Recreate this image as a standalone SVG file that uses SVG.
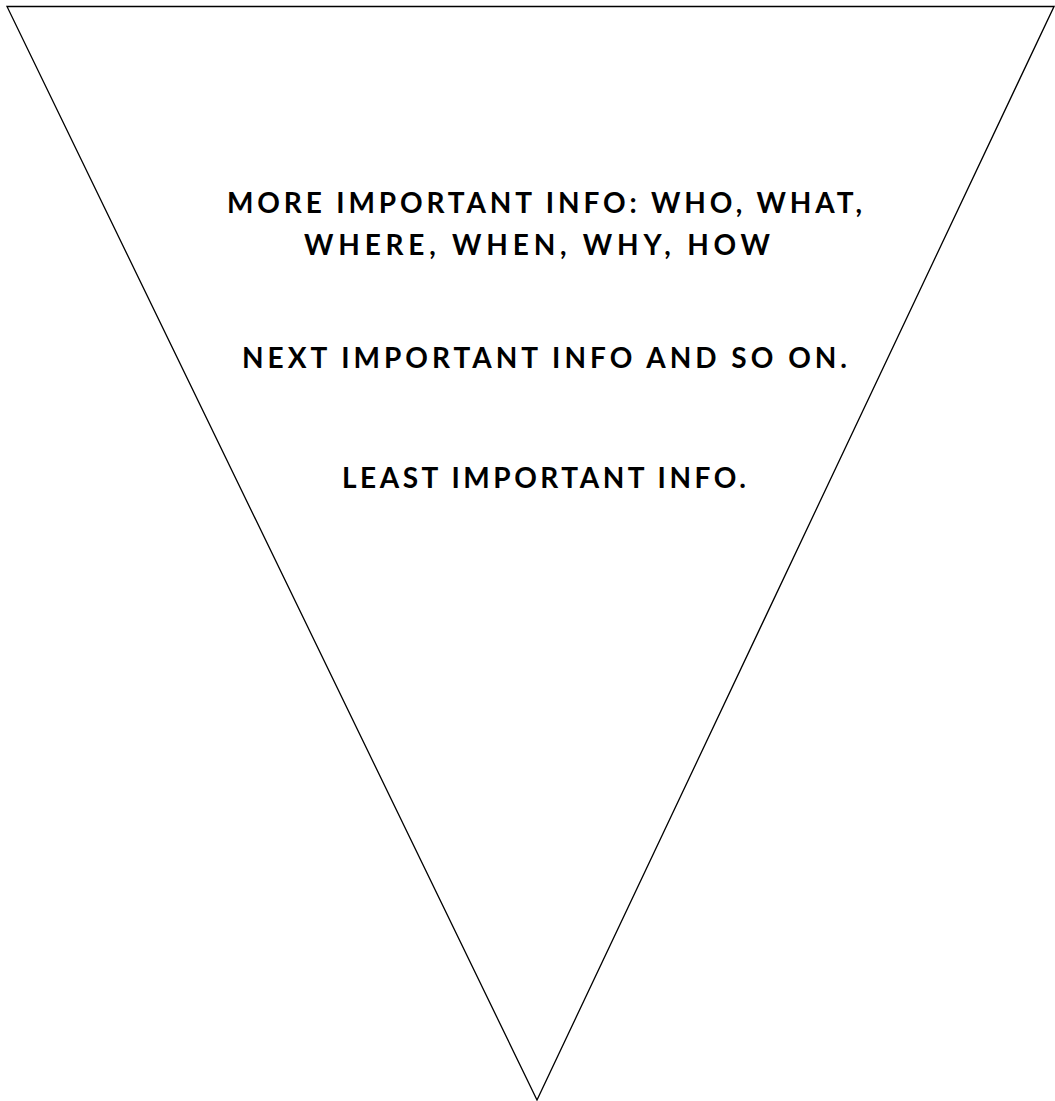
<svg xmlns="http://www.w3.org/2000/svg" width="1055" height="1101" viewBox="0 0 1055 1101">
<style>
.t{font-family:"Lato","Liberation Sans",sans-serif;font-weight:700;font-size:28px;fill:#000}
</style>
<rect width="1055" height="1101" fill="#fff"/>
<g id="pyramid">
<polygon points="7,6.5 1054,6.5 537,1100" fill="#fff" stroke="#000" stroke-width="1.3"/>
</g>
<g id="labels">
<text class="t" x="227" y="213" textLength="635" lengthAdjust="spacing">MORE IMPORTANT INFO: WHO, WHAT,</text>
<text class="t" x="304" y="255" textLength="466" lengthAdjust="spacing">WHERE, WHEN, WHY, HOW</text>
<text class="t" x="242" y="368" textLength="605" lengthAdjust="spacing">NEXT IMPORTANT INFO AND SO ON.</text>
<text class="t" x="342" y="488" textLength="404" lengthAdjust="spacing">LEAST IMPORTANT INFO.</text>
</g>
<g id="connectors"/>
</svg>
